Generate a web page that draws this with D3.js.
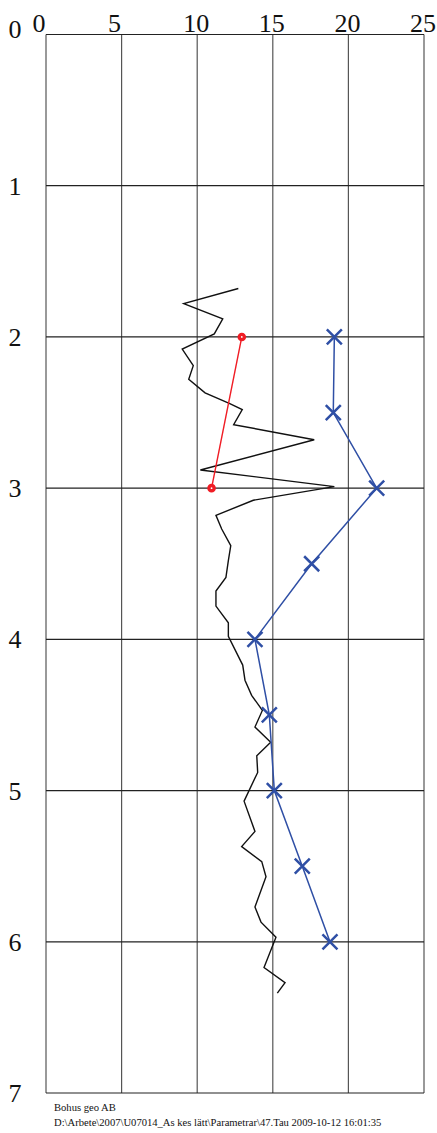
<!DOCTYPE html>
<html>
<head>
<meta charset="utf-8">
<script src="https://cdn.jsdelivr.net/npm/d3@7"></script>
<style>
  html, body { margin: 0; padding: 0; background: #fff; }
  svg { display: block; }
</style>
</head>
<body>
<svg id="chart" width="437" height="1133"></svg>
<script>
// Axis ticks
const xTicks = [0, 5, 10, 15, 20, 25];
const depthTicks = [0, 1, 2, 3, 4, 5, 6, 7];

// Continuous sounding curve (value, depth)
const curveValue = [12.72, 9.11, 11.69, 11.13, 9.01, 9.74, 9.44, 10.52, 12.12, 12.98,
  12.41, 17.74, 10.21, 19.07, 13.71, 11.24, 11.62, 12.22, 12.06, 11.90,
  11.24, 11.24, 12.06, 12.06, 13.01, 13.16, 13.60, 14.31, 13.82, 14.86,
  13.94, 14.00, 13.10, 13.82, 12.94, 14.27, 14.55, 13.82, 14.22, 15.21,
  14.42, 15.81, 15.30];
const curveDepth = [1.68, 1.78, 1.88, 1.98, 2.08, 2.19, 2.28, 2.37, 2.44, 2.48,
  2.58, 2.68, 2.88, 2.99, 3.08, 3.18, 3.27, 3.38, 3.48, 3.59,
  3.68, 3.78, 3.89, 3.98, 4.17, 4.27, 4.37, 4.47, 4.58, 4.68,
  4.77, 4.88, 5.07, 5.27, 5.37, 5.47, 5.57, 5.77, 5.87, 5.97,
  6.17, 6.27, 6.34];

// Red circle series
const redValue = [12.95, 10.95];
const redDepth = [2.0, 3.0];

// Blue cross series
const blueValue = [19.07, 19.0, 21.87, 17.57, 13.82, 14.77, 15.1, 16.95, 18.78];
const blueDepth = [2.0, 2.5, 3.0, 3.5, 4.0, 4.5, 5.0, 5.5, 6.0];

const footer1 = "Bohus geo AB";
const footer2 = "D:\\Arbete\\2007\\U07014_As kes lätt\\Parametrar\\47.Tau  2009-10-12 16:01:35";

const serif = "'Liberation Serif', 'Times New Roman', 'DejaVu Serif', serif";

const svg = d3.select("#chart");
const plotLeft = 46, plotRight = 424, plotTop = 34.5, plotBottom = 1093;

const x = d3.scaleLinear().domain([0, 25]).range([plotLeft, plotRight]);
const y = d3.scaleLinear().domain([0, 7]).range([plotTop, plotBottom]);

// Grid: vertical lines (grey) and horizontal lines (dark)
svg.append("g").selectAll("line").data(xTicks).join("line")
  .attr("x1", d => x(d)).attr("x2", d => x(d))
  .attr("y1", plotTop).attr("y2", plotBottom)
  .attr("stroke", "#555").attr("stroke-width", 1.2);

svg.append("g").selectAll("line").data(depthTicks).join("line")
  .attr("x1", plotLeft).attr("x2", plotRight)
  .attr("y1", d => y(d)).attr("y2", d => y(d))
  .attr("stroke", "#222").attr("stroke-width", 1.2);

// Top axis labels
svg.append("g").selectAll("text").data(xTicks).join("text")
  .attr("x", d => x(d) + (String(d).length === 1 ? -7 : -1))
  .attr("y", 32)
  .attr("text-anchor", "middle")
  .attr("font-family", serif)
  .attr("font-size", 26)
  .attr("fill", "#111")
  .text(d => d);

// Left axis labels
svg.append("g").selectAll("text").data(depthTicks).join("text")
  .attr("x", 15)
  .attr("y", d => y(d) + (d === 0 ? 3 : 9))
  .attr("text-anchor", "middle")
  .attr("font-family", serif)
  .attr("font-size", 26)
  .attr("fill", "#111")
  .text(d => d);

// Sounding curve
const curvePts = curveValue.map((v, i) => [v, curveDepth[i]]);
svg.append("path")
  .attr("d", d3.line().x(d => x(d[0])).y(d => y(d[1]))(curvePts))
  .attr("fill", "none").attr("stroke", "#111").attr("stroke-width", 1.4)
  .attr("stroke-linejoin", "miter");

// Red series
const redPts = redValue.map((v, i) => [v, redDepth[i]]);
svg.append("path")
  .attr("d", d3.line().x(d => x(d[0])).y(d => y(d[1]))(redPts))
  .attr("fill", "none").attr("stroke", "#f01c24").attr("stroke-width", 1.4);
svg.append("g").selectAll("circle").data(redPts).join("circle")
  .attr("cx", d => x(d[0])).attr("cy", d => y(d[1]))
  .attr("r", 2.6).attr("fill", "#fff")
  .attr("stroke", "#f01c24").attr("stroke-width", 3.4);

// Blue series
const bluePts = blueValue.map((v, i) => [v, blueDepth[i]]);
svg.append("path")
  .attr("d", d3.line().x(d => x(d[0])).y(d => y(d[1]))(bluePts))
  .attr("fill", "none").attr("stroke", "#2f4fa5").attr("stroke-width", 1.5);
const arm = 7.5;
svg.append("g").selectAll("path").data(bluePts).join("path")
  .attr("d", d => {
    const cx = x(d[0]), cy = y(d[1]);
    return `M${cx - arm},${cy - arm}L${cx + arm},${cy + arm}M${cx - arm},${cy + arm}L${cx + arm},${cy - arm}`;
  })
  .attr("stroke", "#2f4fa5").attr("stroke-width", 2.5).attr("fill", "none");

// Footer
svg.append("text").attr("x", 54).attr("y", 1111)
  .attr("font-family", serif).attr("font-size", 10.6).attr("fill", "#111").text(footer1);
svg.append("text").attr("x", 54).attr("y", 1126)
  .attr("font-family", serif).attr("font-size", 10.6).attr("fill", "#111").text(footer2);
</script>
</body>
</html>
